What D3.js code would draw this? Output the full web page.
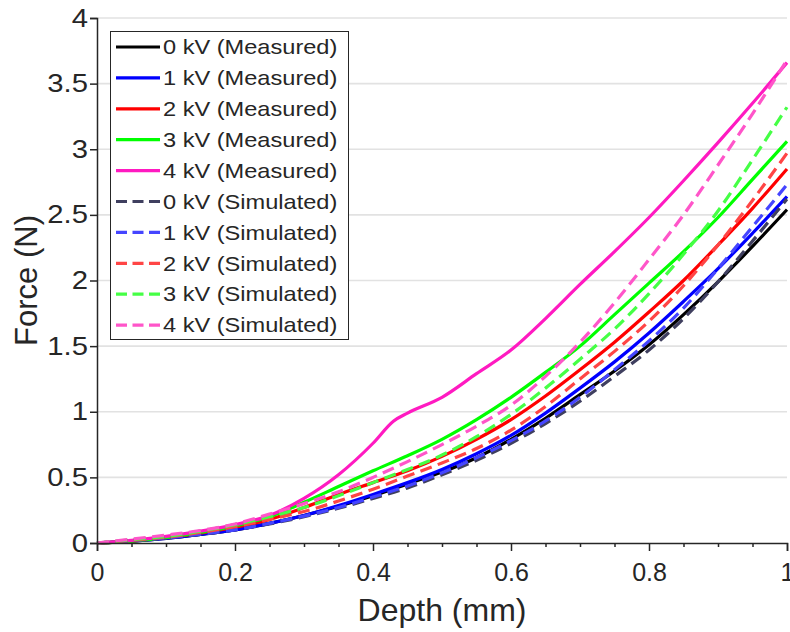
<!DOCTYPE html>
<html>
<head>
<meta charset="utf-8">
<script src="https://cdn.jsdelivr.net/npm/d3@7/dist/d3.min.js"></script>
<style>
  html, body { margin: 0; padding: 0; background: #fff; }
  svg text { font-family: "Liberation Sans", Arial, Helvetica, sans-serif; fill: #262626; }
</style>
</head>
<body>
<svg id="chart" width="790" height="632"></svg>
<script>
// ---------- DATA ----------
const depth = [0, 0.05, 0.1, 0.15, 0.2, 0.25, 0.3, 0.35, 0.4, 0.45, 0.5, 0.55, 0.6, 0.65, 0.7, 0.75, 0.8, 0.85, 0.9, 0.95, 1.0];

const measured0 = [0, 0.015, 0.035, 0.065, 0.10, 0.15, 0.21, 0.28, 0.36, 0.45, 0.54, 0.65, 0.79, 0.95, 1.13, 1.31, 1.51, 1.74, 1.99, 2.26, 2.54];
const measured1 = [0, 0.015, 0.035, 0.065, 0.10, 0.15, 0.21, 0.285, 0.37, 0.46, 0.56, 0.68, 0.82, 0.99, 1.18, 1.38, 1.60, 1.84, 2.09, 2.36, 2.64];
const measured2 = [0, 0.015, 0.04, 0.075, 0.12, 0.18, 0.27, 0.37, 0.46, 0.55, 0.66, 0.79, 0.94, 1.12, 1.32, 1.53, 1.76, 2.00, 2.27, 2.55, 2.85];
const measured3 = [0, 0.015, 0.04, 0.08, 0.13, 0.20, 0.31, 0.43, 0.55, 0.665, 0.79, 0.94, 1.11, 1.30, 1.50, 1.74, 1.98, 2.22, 2.48, 2.77, 3.06];
const measured4Depth = [0, 0.05, 0.1, 0.15, 0.2, 0.25, 0.3, 0.35, 0.4, 0.43, 0.45, 0.5, 0.55, 0.6, 0.65, 0.7, 0.75, 0.8, 0.85, 0.9, 0.95, 1.0];
const measured4 = [0, 0.02, 0.05, 0.09, 0.14, 0.21, 0.34, 0.52, 0.76, 0.93, 0.99, 1.11, 1.29, 1.47, 1.71, 1.97, 2.22, 2.48, 2.76, 3.05, 3.35, 3.66];

const simulated0 = [0, 0.018, 0.04, 0.065, 0.10, 0.145, 0.20, 0.265, 0.34, 0.42, 0.52, 0.63, 0.76, 0.91, 1.08, 1.27, 1.47, 1.71, 1.99, 2.30, 2.62];
const simulated1 = [0, 0.018, 0.04, 0.068, 0.10, 0.15, 0.205, 0.27, 0.35, 0.435, 0.535, 0.65, 0.78, 0.93, 1.11, 1.32, 1.54, 1.79, 2.09, 2.41, 2.73];
const simulated2 = [0, 0.02, 0.045, 0.08, 0.125, 0.18, 0.24, 0.32, 0.41, 0.51, 0.61, 0.72, 0.86, 1.04, 1.25, 1.46, 1.69, 1.96, 2.27, 2.61, 2.97];
const simulated3 = [0, 0.025, 0.05, 0.09, 0.14, 0.20, 0.27, 0.36, 0.46, 0.56, 0.67, 0.81, 0.98, 1.18, 1.40, 1.63, 1.90, 2.20, 2.53, 2.92, 3.32];
const simulated4 = [0, 0.03, 0.06, 0.095, 0.145, 0.22, 0.30, 0.39, 0.50, 0.62, 0.75, 0.89, 1.05, 1.27, 1.53, 1.83, 2.16, 2.50, 2.88, 3.27, 3.68];

const seriesNames = ["0 kV (Measured)", "1 kV (Measured)", "2 kV (Measured)", "3 kV (Measured)", "4 kV (Measured)",
                     "0 kV (Simulated)", "1 kV (Simulated)", "2 kV (Simulated)", "3 kV (Simulated)", "4 kV (Simulated)"];
const xTickValues = [0, 0.2, 0.4, 0.6, 0.8, 1];
const xTickLabels = ["0", "0.2", "0.4", "0.6", "0.8", "1"];
const xMinorTicks = [0.05, 0.1, 0.15, 0.25, 0.3, 0.35, 0.45, 0.5, 0.55, 0.65, 0.7, 0.75, 0.85, 0.9, 0.95];
const yTickValues = [0, 0.5, 1, 1.5, 2, 2.5, 3, 3.5, 4];
const yTickLabels = ["0", "0.5", "1", "1.5", "2", "2.5", "3", "3.5", "4"];
const xLabel = "Depth (mm)";
const yLabel = "Force (N)";

// ---------- STYLE ----------
const colors = ["#000000", "#0000ff", "#ff0000", "#00ff00", "#ff1ac1",
                "#3f3f5f", "#4545ff", "#ff4545", "#45ff45", "#ff55c9"];

const series = [
  { name: seriesNames[0], xs: depth, ys: measured0, color: colors[0], dash: null },
  { name: seriesNames[1], xs: depth, ys: measured1, color: colors[1], dash: null },
  { name: seriesNames[2], xs: depth, ys: measured2, color: colors[2], dash: null },
  { name: seriesNames[3], xs: depth, ys: measured3, color: colors[3], dash: null },
  { name: seriesNames[4], xs: measured4Depth, ys: measured4, color: colors[4], dash: null },
  { name: seriesNames[5], xs: depth, ys: simulated0, color: colors[5], dash: "12,6.5" },
  { name: seriesNames[6], xs: depth, ys: simulated1, color: colors[6], dash: "12,6.5" },
  { name: seriesNames[7], xs: depth, ys: simulated2, color: colors[7], dash: "12,6.5" },
  { name: seriesNames[8], xs: depth, ys: simulated3, color: colors[8], dash: "12,6.5" },
  { name: seriesNames[9], xs: depth, ys: simulated4, color: colors[9], dash: "12,6.5" }
];

const svg = d3.select("#chart");
const pLeft = 97, pRight = 787, pTop = 18, pBottom = 543;
const x = d3.scaleLinear().domain([0, 1]).range([pLeft, pRight]);
const y = d3.scaleLinear().domain([0, 4]).range([pBottom, pTop]);

// grid
svg.append("g")
  .selectAll("line")
  .data(yTickValues.filter(v => v > 0))
  .join("line")
  .attr("x1", pLeft).attr("x2", pRight)
  .attr("y1", d => y(d)).attr("y2", d => y(d))
  .attr("stroke", "#e2e2e2").attr("stroke-width", 1.6);

// lines
const line = d3.line().curve(d3.curveMonotoneX);
svg.append("g")
  .selectAll("path")
  .data(series)
  .join("path")
  .attr("d", s => line(s.xs.map((v, i) => [x(v), y(s.ys[i])])))
  .attr("fill", "none")
  .attr("stroke", s => s.color)
  .attr("stroke-width", 3.2)
  .attr("stroke-dasharray", s => s.dash);

// axes
const xAxis = d3.axisBottom(x).tickValues(xTickValues).tickFormat((d, i) => xTickLabels[i]).tickSize(8).tickPadding(12);
const gx = svg.append("g").attr("transform", `translate(0,${pBottom})`).call(xAxis);
const gxMinor = svg.append("g").attr("transform", `translate(0,${pBottom})`)
  .call(d3.axisBottom(x).tickValues(xMinorTicks).tickFormat("").tickSize(4));
gxMinor.select(".domain").remove();

const yAxis = d3.axisLeft(y).tickValues(yTickValues).tickFormat((d, i) => yTickLabels[i]).tickSize(7).tickPadding(9);
const gy = svg.append("g").attr("transform", `translate(${pLeft},0)`).call(yAxis);

[gx, gy, gxMinor].forEach(g => {
  g.select(".domain").attr("stroke", "#262626").attr("stroke-width", 1.5);
  g.selectAll(".tick line").attr("stroke", "#262626").attr("stroke-width", 1.5);
  g.selectAll(".tick text").style("fill", "#262626");
});
gx.selectAll(".tick text").attr("font-size", 25);
gy.selectAll(".tick text").attr("font-size", 25)
  .attr("x", 0)
  .attr("transform", "translate(-9,0) scale(1.17,1)");

// axis labels
svg.append("text")
  .attr("x", (pLeft + pRight) / 2).attr("y", 621)
  .attr("text-anchor", "middle").attr("font-size", 32)
  .text(xLabel);
svg.append("text")
  .attr("transform", `translate(37,${(pTop + pBottom) / 2}) rotate(-90)`)
  .attr("text-anchor", "middle").attr("font-size", 31)
  .text(yLabel);

// legend
const lg = svg.append("g");
lg.append("rect")
  .attr("x", 110.5).attr("y", 31.5).attr("width", 238).attr("height", 308)
  .attr("fill", "#fff").attr("stroke", "#262626").attr("stroke-width", 1);
const rowY = i => 47 + i * 30.9;
lg.selectAll("line.sample")
  .data(series)
  .join("line")
  .attr("class", "sample")
  .attr("x1", 116).attr("x2", 160)
  .attr("y1", (d, i) => rowY(i)).attr("y2", (d, i) => rowY(i))
  .attr("stroke", d => d.color).attr("stroke-width", 3.2)
  .attr("stroke-dasharray", d => d.dash ? "11,5.5" : null);
lg.selectAll("text.lbl")
  .data(series)
  .join("text")
  .attr("class", "lbl")
  .attr("transform", (d, i) => `translate(163,${rowY(i)}) scale(1.18,1)`)
  .attr("dy", "0.36em")
  .attr("font-size", 20)
  .text(d => d.name);
</script>
</body>
</html>
